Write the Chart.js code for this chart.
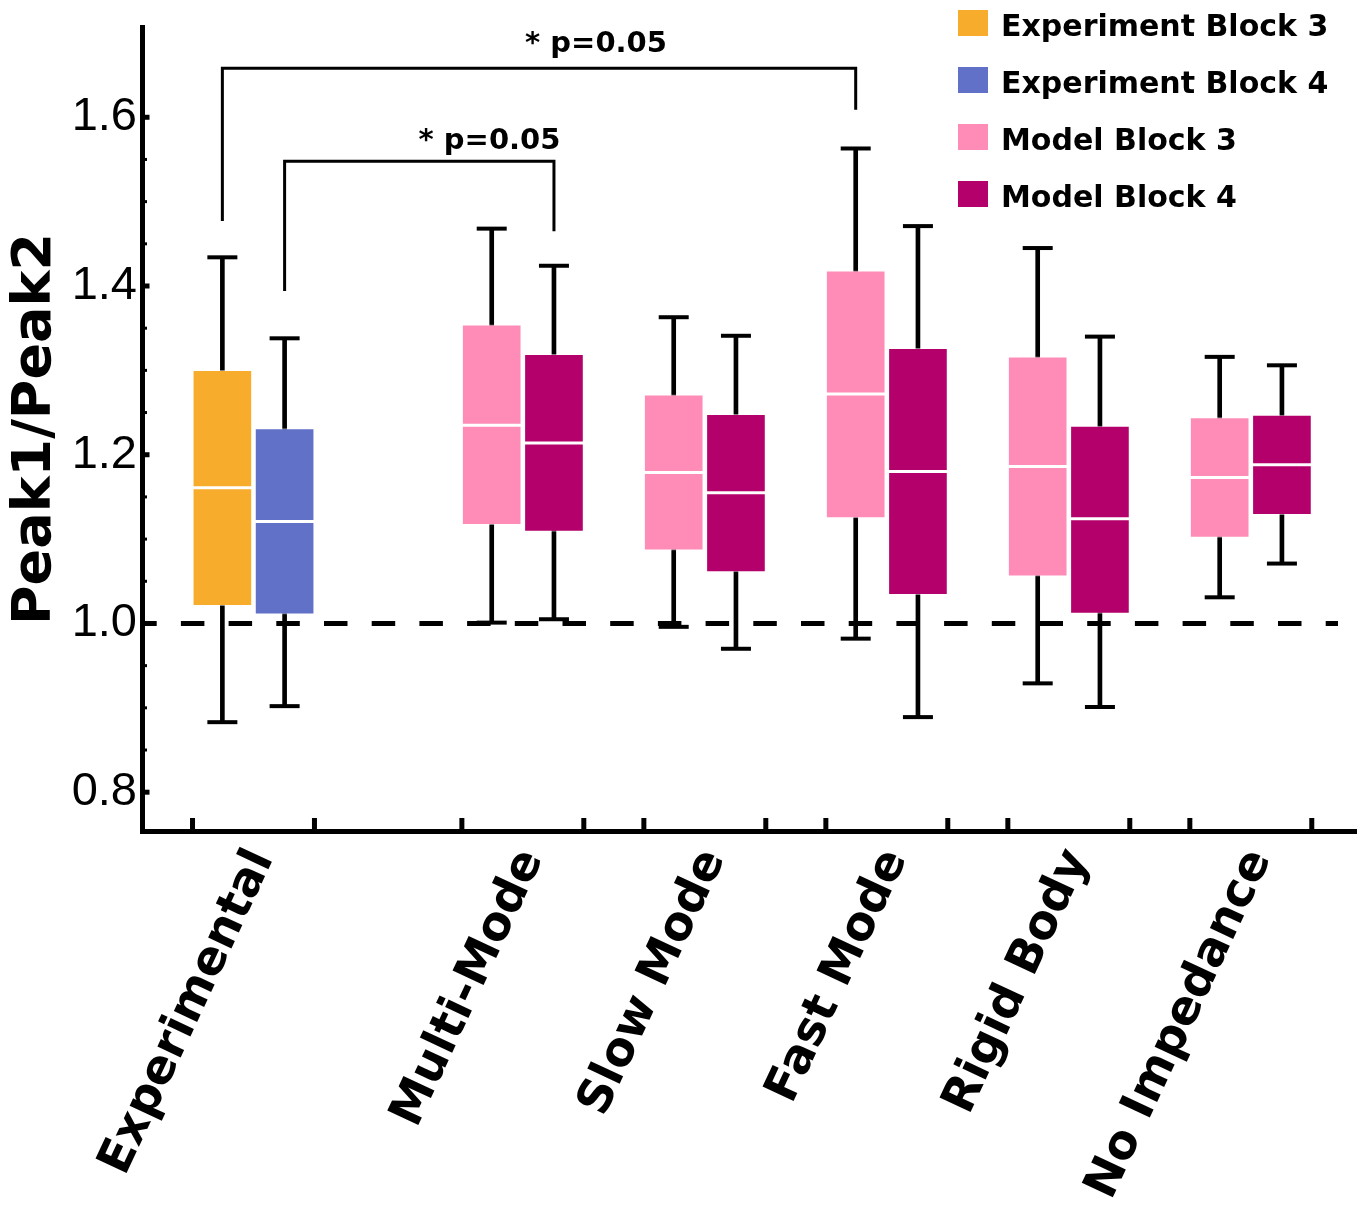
<!DOCTYPE html>
<html>
<head>
<meta charset="utf-8">
<title>Peak1/Peak2 by condition</title>
<script src="https://cdn.jsdelivr.net/npm/chart.js@4.4.1/dist/chart.umd.min.js"></script>
<style>
  html, body { margin: 0; padding: 0; background: #fff; }
  canvas { display: block; }
</style>
</head>
<body>
<canvas id="ratio-chart" width="1366" height="1215"></canvas>
<script>
// x categories
const categories = ['Experimental', 'Multi-Mode', 'Slow Mode', 'Fast Mode', 'Rigid Body', 'No Impedance'];

// five-number summaries: [min, q1, median, q3, max]
const experimentBlock3 = [
  [0.883, 1.021, 1.161, 1.300, 1.434]   // Experimental
];
const experimentBlock4 = [
  [0.902, 1.011, 1.121, 1.231, 1.338]   // Experimental
];
const modelBlock3 = [
  [1.001, 1.117, 1.235, 1.354, 1.468],  // Multi-Mode
  [0.996, 1.087, 1.179, 1.271, 1.363],  // Slow Mode
  [0.982, 1.125, 1.272, 1.418, 1.563],  // Fast Mode
  [0.929, 1.056, 1.186, 1.316, 1.445],  // Rigid Body
  [1.031, 1.102, 1.173, 1.244, 1.316]   // No Impedance
];
const modelBlock4 = [
  [1.005, 1.109, 1.214, 1.319, 1.424],
  [0.970, 1.061, 1.155, 1.248, 1.341],
  [0.889, 1.034, 1.180, 1.326, 1.471],
  [0.901, 1.012, 1.124, 1.234, 1.340],
  [1.071, 1.129, 1.188, 1.247, 1.306]
];

const yTicks = [0.8, 1.0, 1.2, 1.4, 1.6];
const yTickLabels = ['0.8', '1.0', '1.2', '1.4', '1.6'];
const refValue = 1.0;

// significance brackets: ends are [category index, series index]
const brackets = [
  { from: [0, 0], to: [3, 2], top: 1.658, fromEnd: 1.477, toEnd: 1.609, text: '* p=0.05', textX: 2.882, textY: 1.677 },
  { from: [0, 1], to: [1, 3], top: 1.548, fromEnd: 1.394, toEnd: 1.465, text: '* p=0.05', textX: 2.297, textY: 1.562 }
];

// ---- layout ----
const groupX = [1, 2.48, 3.48, 4.48, 5.48, 6.48];
const boxShift = 0.171;
const groupHalf = 0.335;
const xRange = [0.3874, 7.058];
const yRange = [0.754, 1.707];
const refLineEnd = 6.959;
const boldFont = "'DejaVu Sans', sans-serif";
const plainFont = "'Liberation Sans', Arial, sans-serif";

const series = [
  { name: 'Experiment Block 3', color: '#F8AC2B', stats: experimentBlock3, groups: [0], side: -1 },
  { name: 'Experiment Block 4', color: '#6171C8', stats: experimentBlock4, groups: [0], side: 1 },
  { name: 'Model Block 3', color: '#FF8CB7', stats: modelBlock3, groups: [1, 2, 3, 4, 5], side: -1 },
  { name: 'Model Block 4', color: '#B3006A', stats: modelBlock4, groups: [1, 2, 3, 4, 5], side: 1 }
];

function boxX(g, s) {
  return groupX[g] + series[s].side * boxShift;
}

const datasets = [];
series.forEach((sr, si) => {
  const xs = sr.groups.map(g => boxX(g, si));
  datasets.push({
    type: 'bar', label: sr.name, order: 2,
    data: sr.stats.map((st, i) => ({ x: xs[i], y: [st[1], st[3]] })),
    backgroundColor: sr.color, borderColor: 'rgba(255,255,255,0.5)', borderWidth: 1,
    borderSkipped: false, barThickness: 59, grouped: false
  });
  datasets.push({
    type: 'bar', label: sr.name + ' whisker', order: 3,
    data: sr.stats.map((st, i) => ({ x: xs[i], y: [st[0], st[4]] })),
    backgroundColor: '#000', borderWidth: 0, barThickness: 4, grouped: false
  });
  datasets.push({
    type: 'scatter', label: sr.name + ' caps', order: 1,
    data: sr.stats.flatMap((st, i) => [{ x: xs[i], y: st[0] }, { x: xs[i], y: st[4] }]),
    pointStyle: 'line', pointRadius: 15, pointHoverRadius: 15,
    borderColor: '#000', borderWidth: 4
  });
  datasets.push({
    type: 'scatter', label: sr.name + ' median', order: 0,
    data: sr.stats.map((st, i) => ({ x: xs[i], y: st[2] })),
    pointStyle: 'line', pointRadius: 29.5, pointHoverRadius: 29.5,
    borderColor: '#fff', borderWidth: 3
  });
});

datasets.push({
  type: 'line', label: 'reference', order: 4,
  data: [{ x: xRange[0], y: refValue }, { x: refLineEnd, y: refValue }],
  borderColor: '#000', borderWidth: 5, borderDash: [23.5, 24.2], borderDashOffset: 8.8,
  borderCapStyle: 'butt', pointRadius: 0, fill: false
});

// inward tick marks on both axes
const axisTicks = {
  id: 'axisTicks',
  afterDraw(chart) {
    const { ctx, chartArea, scales } = chart;
    ctx.save();
    ctx.fillStyle = '#000';
    for (let k = 0; k <= 16; k++) {
      const v = 0.8 + k * 0.05;
      const y = scales.y.getPixelForValue(v);
      if (k % 4 === 0) ctx.fillRect(chartArea.left, y - 2.5, 7.5, 5);
      else ctx.fillRect(chartArea.left, y - 1.5, 5, 3);
    }
    groupX.forEach(gx => {
      [gx - groupHalf, gx + groupHalf].forEach(v => {
        const x = scales.x.getPixelForValue(v);
        ctx.fillRect(x - 2.5, chartArea.bottom - 13, 5, 13);
      });
    });
    ctx.restore();
  }
};

// significance brackets with their labels
const bracketPlugin = {
  id: 'brackets',
  afterDraw(chart) {
    const { ctx, scales: { x, y } } = chart;
    ctx.save();
    ctx.strokeStyle = '#000';
    ctx.lineWidth = 3;
    ctx.fillStyle = '#000';
    ctx.font = 'bold 29px ' + boldFont;
    ctx.textAlign = 'center';
    ctx.textBaseline = 'alphabetic';
    brackets.forEach(b => {
      const x1 = x.getPixelForValue(boxX(b.from[0], b.from[1]));
      const x2 = x.getPixelForValue(boxX(b.to[0], b.to[1]));
      const yTop = y.getPixelForValue(b.top);
      ctx.beginPath();
      ctx.moveTo(x1, y.getPixelForValue(b.fromEnd));
      ctx.lineTo(x1, yTop);
      ctx.lineTo(x2, yTop);
      ctx.lineTo(x2, y.getPixelForValue(b.toEnd));
      ctx.stroke();
      ctx.fillText(b.text, x.getPixelForValue(b.textX), y.getPixelForValue(b.textY));
    });
    ctx.restore();
  }
};

// legend block in the top right corner
const legendPlugin = {
  id: 'cornerLegend',
  afterDraw(chart) {
    const { ctx } = chart;
    ctx.save();
    ctx.font = 'bold 30px ' + boldFont;
    ctx.textAlign = 'left';
    ctx.textBaseline = 'alphabetic';
    series.forEach((sr, i) => {
      const base = 36 + i * 57;
      ctx.fillStyle = sr.color;
      ctx.fillRect(958, base - 26, 30, 26);
      ctx.fillStyle = '#000';
      ctx.fillText(sr.name, 1001, base);
    });
    ctx.restore();
  }
};

new Chart(document.getElementById('ratio-chart'), {
  type: 'bar',
  data: { datasets: datasets },
  options: {
    responsive: false,
    animation: false,
    layout: { autoPadding: false, padding: { top: 27, right: 10, left: 0, bottom: 0 } },
    plugins: {
      legend: { display: false },
      tooltip: { enabled: false }
    },
    scales: {
      x: {
        type: 'linear',
        min: xRange[0],
        max: xRange[1],
        offset: false,
        grid: { display: false, drawTicks: false },
        border: { display: true, width: 5, color: '#000' },
        afterBuildTicks: s => { s.ticks = groupX.map(v => ({ value: v })); },
        afterFit: s => {
          s.height = 384;
          s.paddingLeft = 0;
          s.paddingRight = 0;
        },
        ticks: {
          autoSkip: false,
          minRotation: 65,
          maxRotation: 65,
          labelOffset: 9,
          padding: 10,
          color: '#000',
          font: { family: boldFont, size: 47, weight: 'bold' },
          callback: (v, i) => categories[i]
        }
      },
      y: {
        type: 'linear',
        min: yRange[0],
        max: yRange[1],
        grid: { display: false, drawTicks: false },
        border: { display: true, width: 5, color: '#000' },
        afterBuildTicks: s => { s.ticks = yTicks.map(v => ({ value: v })); },
        afterFit: s => {
          s.width = 142;
          s.paddingTop = 0;
          s.paddingBottom = 0;
        },
        ticks: {
          padding: 5,
          color: '#000',
          font: { family: plainFont, size: 47 },
          callback: (v, i) => yTickLabels[i]
        },
        title: {
          display: true,
          text: 'Peak1/Peak2',
          color: '#000',
          font: { family: boldFont, size: 54, weight: 'bold', lineHeight: 1 },
          padding: { top: 9, bottom: 0 }
        }
      }
    }
  },
  plugins: [axisTicks, bracketPlugin, legendPlugin]
});
</script>
</body>
</html>
